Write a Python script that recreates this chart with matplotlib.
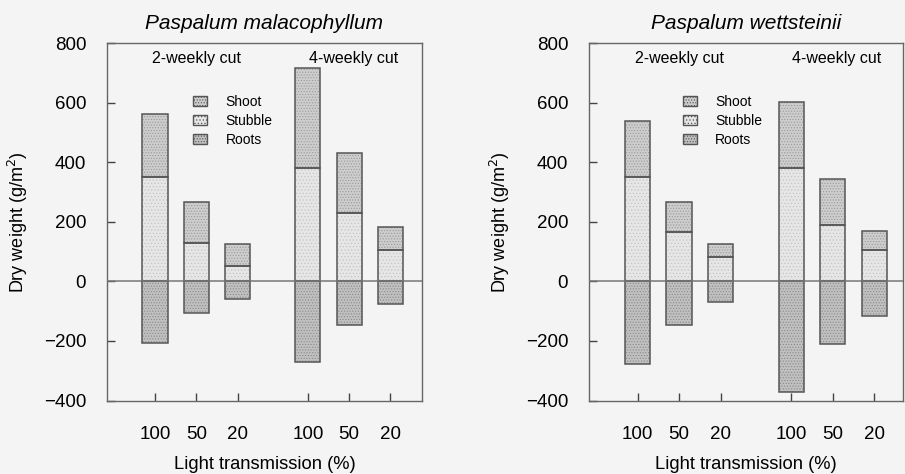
import matplotlib
matplotlib.use("Agg")
import matplotlib.pyplot as plt
from matplotlib.patches import Patch

plt.rcParams['font.family'] = ['Liberation Sans', 'DejaVu Sans']
plt.rcParams['hatch.linewidth'] = 0.5

light = ['100', '50', '20', '100', '50', '20']
groups = ['2-weekly cut', '4-weekly cut']
species = ['Paspalum malacophyllum', 'Paspalum wettsteinii']

# stubble (bottom part above 0), total above-ground (shoot top), roots (below 0)
mal_stubble = [350, 130, 52, 380, 228, 105]
mal_total = [562, 268, 127, 718, 430, 183]
mal_roots = [-207, -107, -60, -270, -147, -75]

wet_stubble = [350, 165, 81, 380, 190, 105]
wet_total = [540, 268, 127, 603, 343, 170]
wet_roots = [-277, -145, -70, -373, -210, -117]

xpos = [0, 1, 2, 3.7, 4.7, 5.7]
c_shoot = '#cdcdcd'
c_stub = '#e6e6e6'
c_root = '#c0c0c0'
edge = '#555555'
bg = '#f4f4f4'

fig = plt.figure(figsize=(9.05, 4.74), dpi=100, facecolor=bg)
boxes = [[0.1182, 0.155, 0.3480, 0.754], [0.6508, 0.155, 0.3470, 0.754]]
xlims = [(-1.16, 6.46), (-1.17, 6.39)]
leg_x = [0.235, 0.26]


def stack(ax, x, h, bottom, fc, hc, hatch):
    # filled stipple first, then the outline on top
    ax.bar(x, h, 0.61, bottom=bottom, color=fc, edgecolor=hc, linewidth=0,
           hatch=hatch, zorder=2)
    ax.bar(x, h, 0.61, bottom=bottom, fill=False, edgecolor=edge, linewidth=1.1, zorder=3)


for i, (stub, tot, roots) in enumerate([(mal_stubble, mal_total, mal_roots),
                                         (wet_stubble, wet_total, wet_roots)]):
    ax = fig.add_axes(boxes[i])
    ax.set_facecolor(bg)
    shoot = [t - s for t, s in zip(tot, stub)]
    stack(ax, xpos, stub, 0, c_stub, '#c4c4c4', '.....')
    stack(ax, xpos, shoot, stub, c_shoot, '#9a9a9a', '......')
    stack(ax, xpos, roots, 0, c_root, '#8a8a8a', '......')
    ax.axhline(0, color='#777777', linewidth=1.1, zorder=4)
    ax.set_xlim(*xlims[i])
    ax.set_ylim(-400, 800)
    ax.set_yticks([-400, -200, 0, 200, 400, 600, 800])
    ax.set_yticklabels(['\u2212400', '\u2212200', '0', '200', '400', '600', '800'])
    ax.set_xticks(xpos)
    ax.set_xticklabels(light)
    ax.tick_params(axis='both', direction='in', length=6, width=1, color='#444444',
                   labelsize=13.5, pad=15)
    ax.tick_params(axis='x', pad=18)
    for sp in ax.spines.values():
        sp.set_color('#666666')
        sp.set_linewidth(1.0)
    ax.set_title(species[i], fontsize=15, style='italic', pad=10)
    ax.set_xlabel('Light transmission (%)', fontsize=13.2, labelpad=10)
    ax.set_ylabel('Dry weight (g/m$^2$)', fontsize=13, labelpad=10)
    ax.text(1, 772, groups[0], ha='center', va='top', fontsize=11.5)
    ax.text(4.8, 772, groups[1], ha='center', va='top', fontsize=11.5)
    handles = [Patch(facecolor=c_shoot, edgecolor=edge, hatch='......'),
               Patch(facecolor=c_stub, edgecolor=edge, hatch='.....'),
               Patch(facecolor=c_root, edgecolor=edge, hatch='......')]
    ax.legend(handles, ['Shoot', 'Stubble', 'Roots'], loc='upper left',
              bbox_to_anchor=(leg_x[i], 0.89), frameon=False, fontsize=10,
              handlelength=1.0, handleheight=0.8, labelspacing=0.35, handletextpad=1.3)

fig.savefig('out.png', dpi=100, facecolor=bg)
